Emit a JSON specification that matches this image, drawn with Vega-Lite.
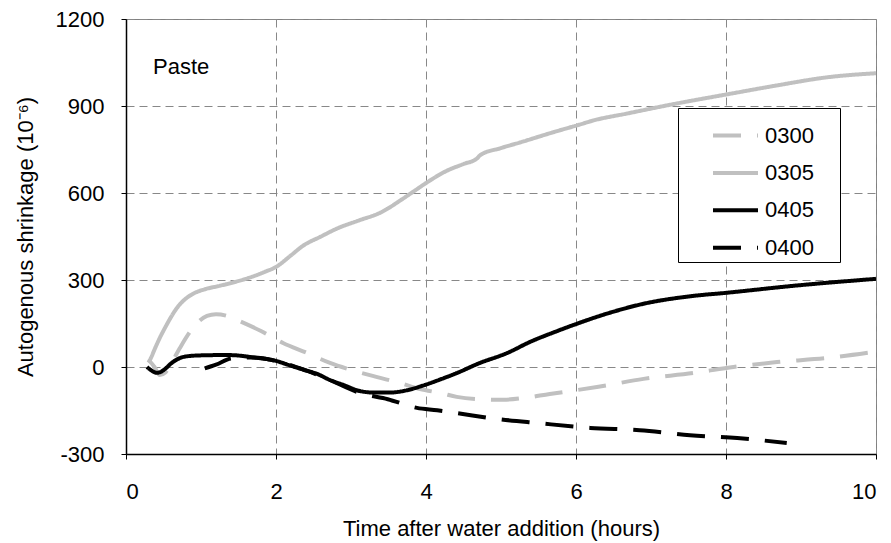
{
  "$schema": "https://vega.github.io/schema/vega-lite/v6.json",
  "width": 750,
  "height": 435,
  "autosize": {"type": "none"},
  "padding": {"left": 126, "top": 19, "right": 15, "bottom": 89},
  "background": "white",
  "config": {
    "font": "Liberation Sans",
    "view": {"stroke": "#808080", "strokeWidth": 1},
    "axis": {
      "labelFont": "Liberation Sans",
      "titleFont": "Liberation Sans",
      "labelFontSize": 22,
      "titleFontSize": 22,
      "titleFontWeight": "normal",
      "labelColor": "#000",
      "titleColor": "#000",
      "domainColor": "#000",
      "domainWidth": 1.5,
      "tickColor": "#000",
      "tickSize": 5,
      "grid": true,
      "gridColor": "#888888",
      "gridDash": [8, 5],
      "gridWidth": 1
    }
  },
  "datasets": {
    "curves": [
      {"s": "0300", "x": 0.30, "y": 25}, {"s": "0300", "x": 0.38, "y": 0}, {"s": "0300", "x": 0.45, "y": -28}, {"s": "0300", "x": 0.52, "y": -20},
      {"s": "0300", "x": 0.62, "y": 20}, {"s": "0300", "x": 0.72, "y": 66}, {"s": "0300", "x": 0.85, "y": 120}, {"s": "0300", "x": 0.95, "y": 152},
      {"s": "0300", "x": 1.08, "y": 176}, {"s": "0300", "x": 1.2, "y": 182}, {"s": "0300", "x": 1.35, "y": 176}, {"s": "0300", "x": 1.5, "y": 160},
      {"s": "0300", "x": 1.8, "y": 124}, {"s": "0300", "x": 2.1, "y": 82}, {"s": "0300", "x": 2.4, "y": 50}, {"s": "0300", "x": 2.72, "y": 14},
      {"s": "0300", "x": 3.0, "y": -10}, {"s": "0300", "x": 3.35, "y": -35}, {"s": "0300", "x": 3.65, "y": -55}, {"s": "0300", "x": 3.92, "y": -76},
      {"s": "0300", "x": 4.2, "y": -90}, {"s": "0300", "x": 4.41, "y": -103}, {"s": "0300", "x": 4.7, "y": -111}, {"s": "0300", "x": 5.03, "y": -113},
      {"s": "0300", "x": 5.3, "y": -107}, {"s": "0300", "x": 5.65, "y": -93}, {"s": "0300", "x": 6.0, "y": -80}, {"s": "0300", "x": 6.3, "y": -68},
      {"s": "0300", "x": 6.9, "y": -41}, {"s": "0300", "x": 7.56, "y": -21}, {"s": "0300", "x": 8.1, "y": 0}, {"s": "0300", "x": 8.68, "y": 17},
      {"s": "0300", "x": 9.35, "y": 31}, {"s": "0300", "x": 10.0, "y": 53},

      {"s": "0305", "x": 0.30, "y": 15}, {"s": "0305", "x": 0.33, "y": 30}, {"s": "0305", "x": 0.39, "y": 66}, {"s": "0305", "x": 0.45, "y": 100},
      {"s": "0305", "x": 0.52, "y": 135}, {"s": "0305", "x": 0.6, "y": 172}, {"s": "0305", "x": 0.68, "y": 204}, {"s": "0305", "x": 0.78, "y": 232},
      {"s": "0305", "x": 0.89, "y": 252}, {"s": "0305", "x": 1.05, "y": 268}, {"s": "0305", "x": 1.25, "y": 280}, {"s": "0305", "x": 1.45, "y": 293},
      {"s": "0305", "x": 1.69, "y": 312}, {"s": "0305", "x": 1.85, "y": 328}, {"s": "0305", "x": 2.0, "y": 345}, {"s": "0305", "x": 2.2, "y": 385},
      {"s": "0305", "x": 2.36, "y": 418}, {"s": "0305", "x": 2.6, "y": 450}, {"s": "0305", "x": 2.81, "y": 477}, {"s": "0305", "x": 3.1, "y": 505},
      {"s": "0305", "x": 3.39, "y": 532}, {"s": "0305", "x": 3.69, "y": 580}, {"s": "0305", "x": 3.85, "y": 608}, {"s": "0305", "x": 4.01, "y": 636},
      {"s": "0305", "x": 4.28, "y": 677}, {"s": "0305", "x": 4.5, "y": 700}, {"s": "0305", "x": 4.68, "y": 719}, {"s": "0305", "x": 4.72, "y": 730},
      {"s": "0305", "x": 5.0, "y": 755}, {"s": "0305", "x": 5.25, "y": 774}, {"s": "0305", "x": 5.69, "y": 809}, {"s": "0305", "x": 6.05, "y": 836},
      {"s": "0305", "x": 6.23, "y": 850}, {"s": "0305", "x": 6.68, "y": 874}, {"s": "0305", "x": 7.35, "y": 909}, {"s": "0305", "x": 8.01, "y": 940},
      {"s": "0305", "x": 8.68, "y": 971}, {"s": "0305", "x": 9.35, "y": 999}, {"s": "0305", "x": 10.0, "y": 1013},

      {"s": "0405", "x": 0.28, "y": 0}, {"s": "0405", "x": 0.34, "y": -12}, {"s": "0405", "x": 0.41, "y": -20}, {"s": "0405", "x": 0.47, "y": -16},
      {"s": "0405", "x": 0.52, "y": -7}, {"s": "0405", "x": 0.6, "y": 12}, {"s": "0405", "x": 0.72, "y": 31}, {"s": "0405", "x": 0.85, "y": 38},
      {"s": "0405", "x": 0.99, "y": 40}, {"s": "0405", "x": 1.2, "y": 41}, {"s": "0405", "x": 1.39, "y": 41}, {"s": "0405", "x": 1.7, "y": 33},
      {"s": "0405", "x": 2.0, "y": 21}, {"s": "0405", "x": 2.19, "y": 5}, {"s": "0405", "x": 2.4, "y": -12}, {"s": "0405", "x": 2.55, "y": -24},
      {"s": "0405", "x": 2.72, "y": -45}, {"s": "0405", "x": 2.9, "y": -62}, {"s": "0405", "x": 3.12, "y": -83}, {"s": "0405", "x": 3.3, "y": -88},
      {"s": "0405", "x": 3.52, "y": -88}, {"s": "0405", "x": 3.75, "y": -80}, {"s": "0405", "x": 3.96, "y": -64}, {"s": "0405", "x": 4.2, "y": -42},
      {"s": "0405", "x": 4.41, "y": -21}, {"s": "0405", "x": 4.7, "y": 12}, {"s": "0405", "x": 5.08, "y": 48}, {"s": "0405", "x": 5.4, "y": 88},
      {"s": "0405", "x": 5.75, "y": 124}, {"s": "0405", "x": 6.01, "y": 149}, {"s": "0405", "x": 6.45, "y": 187}, {"s": "0405", "x": 6.9, "y": 218},
      {"s": "0405", "x": 7.56, "y": 245}, {"s": "0405", "x": 8.01, "y": 256}, {"s": "0405", "x": 8.9, "y": 280}, {"s": "0405", "x": 10.0, "y": 304},

      {"s": "0400", "x": 1.05, "y": -5}, {"s": "0400", "x": 1.2, "y": 8}, {"s": "0400", "x": 1.41, "y": 30}, {"s": "0400", "x": 1.7, "y": 33},
      {"s": "0400", "x": 2.0, "y": 21}, {"s": "0400", "x": 2.4, "y": -12}, {"s": "0400", "x": 2.72, "y": -45}, {"s": "0400", "x": 3.12, "y": -90},
      {"s": "0400", "x": 3.49, "y": -111}, {"s": "0400", "x": 3.88, "y": -141}, {"s": "0400", "x": 4.15, "y": -149}, {"s": "0400", "x": 4.49, "y": -162},
      {"s": "0400", "x": 4.85, "y": -176}, {"s": "0400", "x": 5.52, "y": -194}, {"s": "0400", "x": 6.19, "y": -210}, {"s": "0400", "x": 6.85, "y": -218},
      {"s": "0400", "x": 7.52, "y": -235}, {"s": "0400", "x": 8.15, "y": -245}, {"s": "0400", "x": 8.81, "y": -262}
    ],
    "notes": [{"label": "Paste", "x": 0.36, "y": 1010}]
  },
  "layer": [
    {
      "data": {"name": "curves"},
      "mark": {"type": "line", "strokeWidth": 4, "clip": true, "interpolate": "monotone"},
      "encoding": {
        "x": {
          "field": "x", "type": "quantitative",
          "scale": {"domain": [0, 10], "nice": false},
          "axis": {
            "values": [0, 2, 4, 6, 8, 10],
            "labelExpr": "'' + datum.value",
            "labelPadding": 22,
            "title": "Time after water addition (hours)",
            "titlePadding": 16
          }
        },
        "y": {
          "field": "y", "type": "quantitative",
          "scale": {"domain": [-300, 1200], "nice": false, "zero": false},
          "axis": {
            "values": [-300, 0, 300, 600, 900, 1200],
            "labelExpr": "'' + datum.value",
            "labelPadding": 17,
            "title": "Autogenous shrinkage (10⁻⁶)",
            "titlePadding": 18
          }
        },
        "color": {
          "field": "s", "type": "nominal",
          "scale": {"domain": ["0300", "0305", "0405", "0400"], "range": ["#c0c0c0", "#c0c0c0", "#000000", "#000000"]},
          "legend": {
            "title": null,
            "orient": "none",
            "legendX": 552,
            "legendY": 89,
            "fillColor": "white",
            "strokeColor": "#000",
            "padding": 3,
            "symbolType": "stroke",
            "symbolSize": 2025,
            "symbolStrokeWidth": 4,
            "symbolOffset": 30,
            "labelFontSize": 22,
            "labelFont": "Liberation Sans",
            "labelColor": "#000",
            "labelOffset": 5,
            "labelExpr": "datum.label + '\u00a0\u2800'",
            "rowPadding": 1.4
          }
        },
        "strokeDash": {
          "field": "s", "type": "nominal",
          "scale": {"domain": ["0300", "0305", "0405", "0400"], "range": [[28, 16], [1, 0], [1, 0], [28, 16]]},
          "legend": null
        },
        "order": {"field": "x", "type": "quantitative"}
      }
    },
    {
      "data": {"name": "notes"},
      "mark": {"type": "text", "align": "left", "baseline": "alphabetic", "fontSize": 22, "font": "Liberation Sans", "color": "#000"},
      "encoding": {
        "x": {"field": "x", "type": "quantitative"},
        "y": {"field": "y", "type": "quantitative"},
        "text": {"field": "label"}
      }
    }
  ]
}
